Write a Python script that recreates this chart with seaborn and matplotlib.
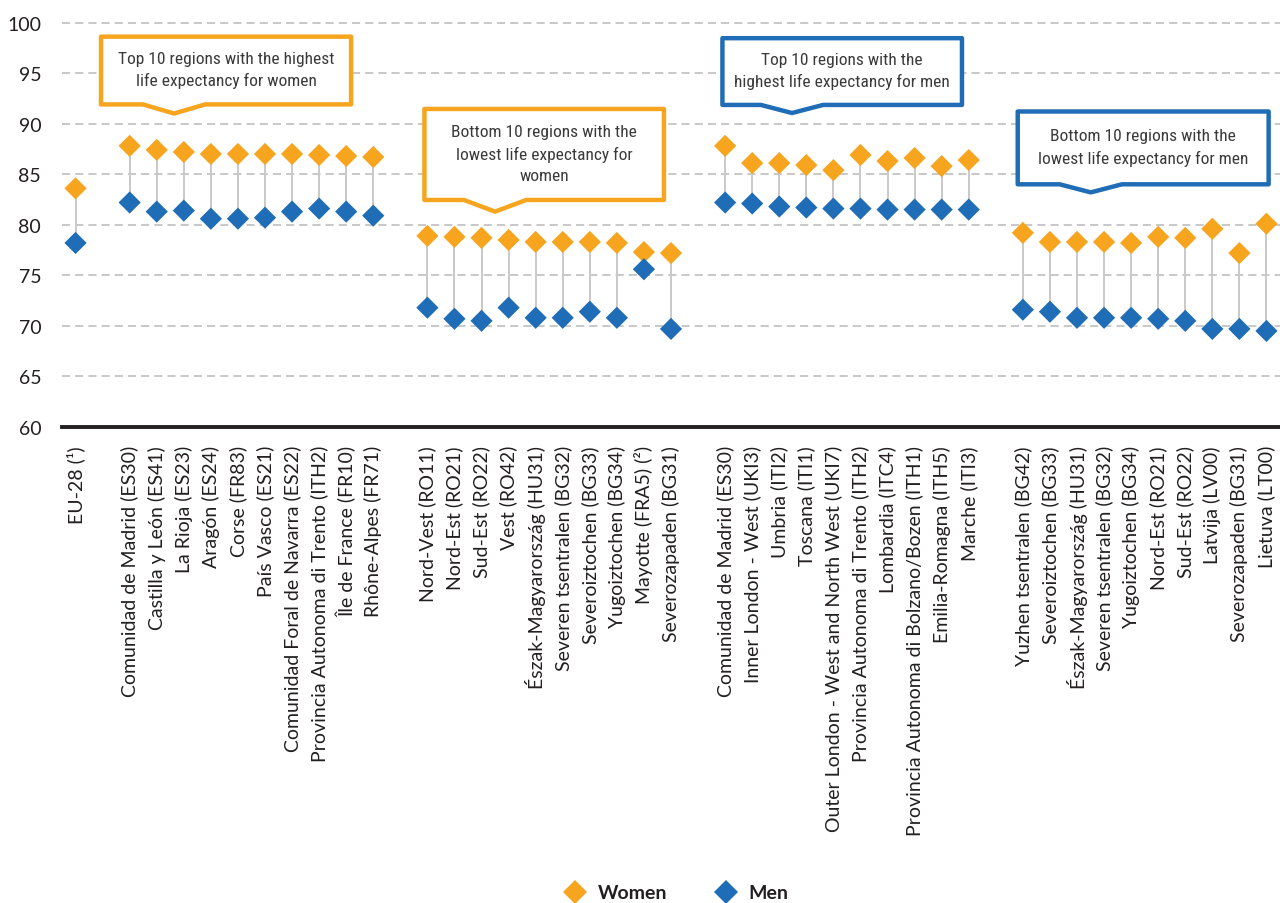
import numpy as np
import pandas as pd
import matplotlib
matplotlib.use("Agg")
import matplotlib.pyplot as plt
import seaborn as sns
from matplotlib.patches import Polygon
from matplotlib.lines import Line2D
from matplotlib.ticker import FixedLocator
from matplotlib import font_manager

# ---- data -------------------------------------------------------------
eu_label = ["EU-28 (¹)"]
eu_women = [83.6]
eu_men = [78.2]

top_women_labels = ["Comunidad de Madrid (ES30)", "Castilla y León (ES41)", "La Rioja (ES23)",
                    "Aragón (ES24)", "Corse (FR83)", "País Vasco (ES21)",
                    "Comunidad Foral de Navarra (ES22)", "Provincia Autonoma di Trento (ITH2)",
                    "Île de France (FR10)", "Rhône-Alpes (FR71)"]
top_women_w = [87.8, 87.4, 87.2, 87.0, 87.0, 87.0, 87.0, 86.9, 86.8, 86.7]
top_women_m = [82.2, 81.3, 81.4, 80.6, 80.6, 80.7, 81.3, 81.6, 81.3, 80.9]

bottom_women_labels = ["Nord-Vest (RO11)", "Nord-Est (RO21)", "Sud-Est (RO22)", "Vest (RO42)",
                       "Észak-Magyarország (HU31)", "Severen tsentralen (BG32)",
                       "Severoiztochen (BG33)", "Yugoiztochen (BG34)", "Mayotte (FRA5) (²)",
                       "Severozapaden (BG31)"]
bottom_women_w = [78.9, 78.8, 78.7, 78.5, 78.3, 78.3, 78.3, 78.2, 77.3, 77.2]
bottom_women_m = [71.8, 70.7, 70.5, 71.8, 70.8, 70.8, 71.4, 70.8, 75.6, 69.7]

top_men_labels = ["Comunidad de Madrid (ES30)", "Inner London - West (UKI3)", "Umbria (ITI2)",
                  "Toscana (ITI1)", "Outer London - West and North West (UKI7)",
                  "Provincia Autonoma di Trento (ITH2)", "Lombardia (ITC4)",
                  "Provincia Autonoma di Bolzano/Bozen (ITH1)", "Emilia-Romagna (ITH5)",
                  "Marche (ITI3)"]
top_men_w = [87.8, 86.1, 86.1, 85.9, 85.4, 86.9, 86.3, 86.6, 85.8, 86.4]
top_men_m = [82.2, 82.1, 81.8, 81.7, 81.6, 81.6, 81.5, 81.5, 81.5, 81.5]

bottom_men_labels = ["Yuzhen tsentralen (BG42)", "Severoiztochen (BG33)",
                     "Észak-Magyarország (HU31)", "Severen tsentralen (BG32)",
                     "Yugoiztochen (BG34)", "Nord-Est (RO21)", "Sud-Est (RO22)",
                     "Latvija (LV00)", "Severozapaden (BG31)", "Lietuva (LT00)"]
bottom_men_w = [79.2, 78.3, 78.3, 78.3, 78.2, 78.8, 78.7, 79.6, 77.2, 80.1]
bottom_men_m = [71.6, 71.4, 70.8, 70.8, 70.8, 70.7, 70.5, 69.7, 69.7, 69.5]

y_ticks = [60, 65, 70, 75, 80, 85, 90, 95, 100]

groups = [
    (eu_label, eu_women, eu_men),
    (top_women_labels, top_women_w, top_women_m),
    (bottom_women_labels, bottom_women_w, bottom_women_m),
    (top_men_labels, top_men_w, top_men_m),
    (bottom_men_labels, bottom_men_w, bottom_men_m),
]

# ---- layout: one empty slot between groups ----------------------------
labels, women, men, pos = [], [], [], []
cursor = 0
for lab, w, m in groups:
    for i in range(len(lab)):
        labels.append(lab[i]); women.append(w[i]); men.append(m[i]); pos.append(cursor + i)
    cursor += len(lab) + 1
last_pos = pos[-1]

df = pd.concat([
    pd.DataFrame({"pos": pos, "value": women, "sex": "Women"}),
    pd.DataFrame({"pos": pos, "value": men, "sex": "Men"}),
], ignore_index=True)

ORANGE = "#F7A51F"
BLUE = "#1F6DB6"
TEXT = "#231f20"

sns.set_style("white")
plt.rcParams["font.family"] = ["Lato", "DejaVu Sans"]

available = {f.name for f in font_manager.fontManager.ttflist}
narrow_family = None
for cand in ["Liberation Sans Narrow", "Roboto Condensed", "Open Sans Condensed", "DejaVu Sans Condensed"]:
    if cand in available:
        narrow_family = cand
        break

fig = plt.figure(figsize=(12.8, 9.04), dpi=100)
ax = fig.add_axes([62 / 1280, 1 - 428 / 904, 1 - 62 / 1280, (428 - 23) / 904])

# connectors between women and men
ax.vlines(pos, men, women, color="#c9c9c9", lw=1.4, zorder=2)

sns.scatterplot(data=df, x="pos", y="value", hue="sex", palette={"Women": ORANGE, "Men": BLUE},
                marker="D", s=128, linewidth=0, legend=False, zorder=3, ax=ax)

ax.set_xlim(-0.5, last_pos + 0.5)
ax.set_ylim(60, 100.05)
ax.set_xlabel("")
ax.set_ylabel("")

ax.set_yticks(y_ticks)
ax.set_yticklabels([str(v) for v in y_ticks])
ax.tick_params(axis="y", length=0, pad=15, labelsize=14, labelcolor=TEXT)
ax.yaxis.grid(True, linestyle=(0, (4.5, 2.8)), color="#c4c4c4", lw=1.3)
ax.set_axisbelow(True)

ax.set_xticks(pos)
ax.set_xticklabels(labels, rotation=90, ha="center", va="top")
ax.tick_params(axis="x", which="major", length=0, pad=13, labelsize=14, labelcolor=TEXT)
ax.xaxis.set_minor_locator(FixedLocator(np.arange(-0.5, last_pos + 1.0, 1.0)))
ax.tick_params(axis="x", which="minor", length=10.5, width=1.7, color=TEXT, direction="out")

for side in ["top", "right", "left"]:
    ax.spines[side].set_visible(False)
ax.spines["bottom"].set_color(TEXT)
ax.spines["bottom"].set_linewidth(2.8)


def callout(left, right, bottom, top, tip_x, tip_y, color, text):
    half = 1.15
    pts = [(left, top), (right, top), (right, bottom), (tip_x + half, bottom),
           (tip_x, tip_y), (tip_x - half, bottom), (left, bottom)]
    ax.add_patch(Polygon(pts, closed=True, facecolor="white", edgecolor=color, lw=3.2,
                         joinstyle="round", zorder=5, clip_on=False))
    kw = dict(ha="center", va="center", color="#3a3a3a", zorder=6, linespacing=1.5)
    if narrow_family is not None:
        kw.update(family=[narrow_family, "DejaVu Sans"], fontsize=12.5)
    else:
        kw.update(family=["DejaVu Sans"], fontstretch="condensed", fontsize=11.5)
    ax.text((left + right) / 2, (top + bottom) / 2 + 0.1, text, **kw)


callout(0.94, 10.18, 91.9, 98.6, 3.64, 91.0, ORANGE,
        "Top 10 regions with the highest\nlife expectancy for women")
callout(12.89, 21.74, 82.45, 91.45, 15.5, 81.3, ORANGE,
        "Bottom 10 regions with the\nlowest life expectancy for\nwomen")
callout(23.9, 32.75, 91.85, 98.45, 26.47, 91.05, BLUE,
        "Top 10 regions with the\nhighest life expectancy for men")
callout(34.81, 44.08, 84.0, 91.2, 37.51, 83.2, BLUE,
        "Bottom 10 regions with the\nlowest life expectancy for men")

handles = [Line2D([], [], marker="D", ls="", color=ORANGE, markersize=12, markeredgewidth=0),
           Line2D([], [], marker="D", ls="", color=BLUE, markersize=12, markeredgewidth=0)]
fig.legend(handles, ["Women", "Men"], loc="center", bbox_to_anchor=(672 / 1280, 1 - 894 / 904),
           ncol=2, frameon=False, prop=dict(weight="bold", size=14), handletextpad=0.15,
           columnspacing=2.0, labelcolor=TEXT)

fig.savefig("out.png", dpi=100)
